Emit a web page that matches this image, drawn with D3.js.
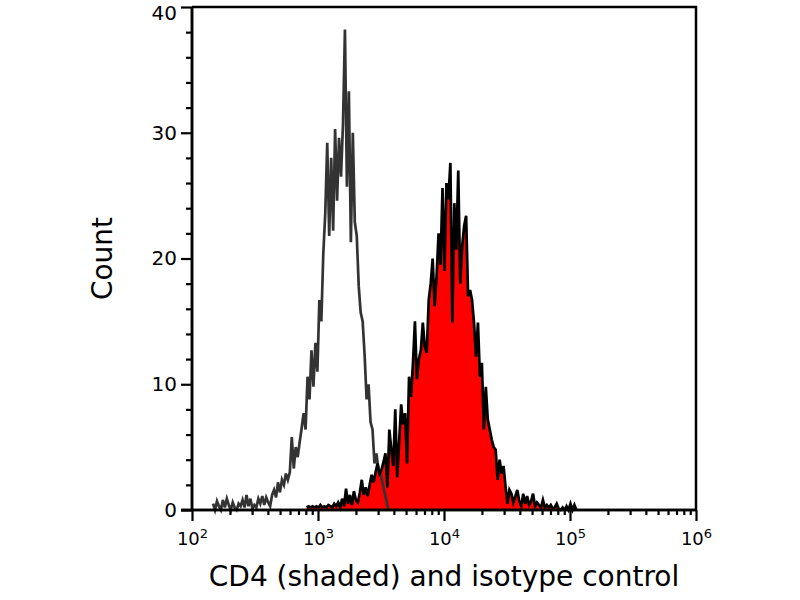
<!DOCTYPE html>
<html>
<head>
<meta charset="utf-8">
<script src="https://cdn.jsdelivr.net/npm/d3@7"></script>
<style>
  html, body { margin: 0; padding: 0; background: #fff; }
  svg { display: block; }
  text { font-family: "DejaVu Sans", Verdana, sans-serif; fill: #000; }
</style>
</head>
<body>
<svg id="chart" width="800" height="600"></svg>
<script>
// ---- data ----
const xDecades = [2, 3, 4, 5, 6];
const yMajorTicks = [0, 10, 20, 30, 40];
const yMinorTicks = [2, 4, 6, 8, 12, 14, 16, 18, 22, 24, 26, 28, 32, 34, 36, 38];
const binsPerDecade = 64;
const isotypeStartExp = 2.167;
const cd4StartExp = 2.91;

// isotype control (unshaded, dark grey line): counts per channel
const isotypeCounts = [
  0.5, 0, 0.7, 0.3, 0, 0.8, 0.2, 0.9, 0.4, 0,
  0.6, 0.2, 0, 0.5, 0.3, 0.8, 0.2, 1.2, 0.3, 0.9,
  0.1, 0.4, 0.2, 0.9, 0.5, 1.1, 0.4, 1.0, 0.6, 0.3,
  1.2, 1.6, 1.0, 2.2, 1.4, 2.4, 2.0, 2.9, 2.4, 3.0,
  5.8, 3.3, 5.0, 4.2, 5.4, 6.5, 7.7, 6.4, 10.6, 8.8,
  12.7, 9.8, 13.3, 11.0, 16.7, 15.0, 20.4, 23.6, 29.2, 21.8,
  28.0, 22.2, 30.3, 24.6, 29.6, 26.5, 30.7, 38.2, 25.7, 33.3,
  21.3, 30.0, 22.9, 21.8, 17.8, 15.7, 15.0, 12.3, 8.8, 10.0,
  7.0, 6.4, 3.7, 4.5, 3.2, 3.0, 2.2, 1.5, 0.8, 0
];

// CD4 (shaded red): counts per channel
const cd4Counts = [
  0.2, 0.3, 0.2, 0.3, 0.2, 0.3, 0.2, 0.4, 0.2, 0.3,
  0.2, 0.4, 0.3, 0.2, 0.5, 0.3, 0.6, 0.2, 0.9, 0.3,
  1.7, 0.5, 1.2, 0.4, 1.5, 0.8, 0.6, 1.4, 2.4, 1.2,
  1.8, 1.1, 2.0, 2.8, 2.2, 3.0, 3.7, 2.9, 3.2, 3.8,
  4.5, 1.8, 6.4, 4.8, 3.5, 8.0, 2.6, 5.5, 8.4, 6.8,
  7.7, 3.7, 10.6, 9.0, 11.7, 15.0, 10.4, 12.0, 12.7, 14.9,
  13.0, 12.5, 16.7, 18.0, 20.0, 16.2, 18.6, 22.0, 19.5, 25.6,
  19.0, 26.0, 24.7, 27.6, 14.9, 24.4, 20.7, 27.0, 18.0, 21.0,
  22.6, 23.4, 17.0, 17.5, 16.7, 14.9, 12.2, 14.9, 10.6, 11.7,
  6.4, 9.8, 7.2, 6.4, 5.6, 5.0, 4.8, 2.4, 4.0, 2.9,
  3.5, 1.9, 0.5, 1.6, 1.3, 0.6, 1.1, 1.6, 0.7, 0.3,
  1.3, 0.5, 1.1, 0.4, 0.7, 1.3, 0.3, 0.6, 0.4, 0.2,
  0.8, 0.2, 0.4, 0.2, 0.4, 0.1, 0.2, 0.5, 0.1, 0.0,
  0.2, 0.0, 0.3, 0.0, 0.5, 0.0, 0.4, 0.0
];

const xTitle = "CD4 (shaded) and isotype control";
const yTitle = "Count";

// ---- layout ----
const pLeft = 192, pRight = 696, pTop = 7, pBottom = 510;
const svg = d3.select("#chart");

const x = d3.scaleLog().domain([100, 1e6]).range([pLeft, pRight]);
const y = d3.scaleLinear().domain([0, 40]).range([pBottom, pTop]);

const toPoints = (counts, startExp) =>
  counts.map((c, i) => ({ v: Math.pow(10, startExp + i / binsPerDecade), c }));
const isoPts = toPoints(isotypeCounts, isotypeStartExp);
const cd4Pts = toPoints(cd4Counts, cd4StartExp);

// red shaded area
svg.append("path")
  .datum(cd4Pts)
  .attr("fill", "#ff0000")
  .attr("d", d3.area().x(d => x(d.v)).y0(y(0)).y1(d => y(d.c)));

// isotype line
svg.append("path")
  .datum(isoPts)
  .attr("fill", "none")
  .attr("stroke", "#333333")
  .attr("stroke-width", 2.7)
  .attr("d", d3.line().x(d => x(d.v)).y(d => y(d.c)));

// CD4 line
svg.append("path")
  .datum(cd4Pts)
  .attr("fill", "none")
  .attr("stroke", "#000")
  .attr("stroke-width", 2.7)
  .attr("d", d3.line().x(d => x(d.v)).y(d => y(d.c)));

// frame (top & right)
svg.append("path")
  .attr("fill", "none").attr("stroke", "#000").attr("stroke-width", 2.5)
  .attr("d", `M${pLeft},${pTop}H${pRight}V${pBottom}`);

// y axis
const yMinor = svg.append("g").attr("transform", `translate(${pLeft},0)`)
  .call(d3.axisLeft(y).tickValues(yMinorTicks).tickSize(6).tickFormat(""));
const yMajor = svg.append("g").attr("transform", `translate(${pLeft},0)`)
  .call(d3.axisLeft(y).tickValues(yMajorTicks).tickSize(11).tickPadding(4).tickFormat(d3.format("d")));
[yMinor, yMajor].forEach(g => {
  g.selectAll(".domain").attr("stroke", "#000").attr("stroke-width", 2.5).attr("d", `M0,${pTop}V${pBottom}`);
  g.selectAll(".tick line").attr("stroke", "#000").attr("stroke-width", 2.2);
});
yMajor.selectAll(".tick text").attr("font-size", 20)
  .attr("font-family", "DejaVu Sans Condensed, DejaVu Sans")
  .attr("dy", d => d === 40 ? "0.6em" : "0.32em");

// x axis
const minorVals = [];
xDecades.slice(0, -1).forEach(e => { for (let m = 2; m <= 9; m++) minorVals.push(m * Math.pow(10, e)); });
const xMinor = svg.append("g").attr("transform", `translate(0,${pBottom})`)
  .call(d3.axisBottom(x).tickValues(minorVals).tickSize(5).tickFormat(""));
const xMajor = svg.append("g").attr("transform", `translate(0,${pBottom})`)
  .call(d3.axisBottom(x).tickValues(xDecades.map(e => Math.pow(10, e))).tickSize(11).tickFormat(""));
[xMinor, xMajor].forEach(g => {
  g.selectAll(".domain").attr("stroke", "#000").attr("stroke-width", 2.5).attr("d", `M${pLeft - 11},0H${pRight}`);
  g.selectAll(".tick line").attr("stroke", "#000").attr("stroke-width", 2.2);
});
xMajor.selectAll(".tick").each(function(d, i) {
  const t = d3.select(this).append("text")
    .attr("y", 35).attr("text-anchor", "middle")
    .attr("font-size", 18).attr("font-family", "DejaVu Sans Condensed, DejaVu Sans");
  t.append("tspan").text("10");
  t.append("tspan").attr("dy", -7).attr("font-size", 13).text(String(xDecades[i]));
});

// titles
svg.append("text")
  .attr("x", (pLeft + pRight) / 2).attr("y", 586)
  .attr("text-anchor", "middle").attr("font-size", 28)
  .text(xTitle);
svg.append("text")
  .attr("transform", `translate(112,${(pTop + pBottom) / 2}) rotate(-90)`)
  .attr("text-anchor", "middle").attr("font-size", 28)
  .text(yTitle);
</script>
</body>
</html>
